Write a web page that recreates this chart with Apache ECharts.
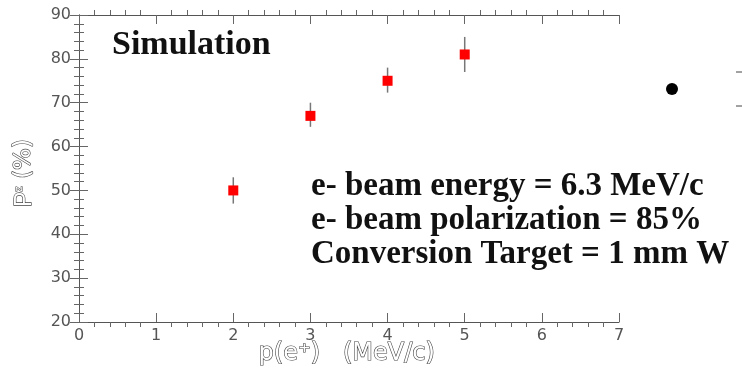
<!DOCTYPE html>
<html>
<head>
<meta charset="utf-8">
<script src="https://cdn.jsdelivr.net/npm/echarts@6/dist/echarts.min.js"></script>
<style>
  html, body { margin: 0; padding: 0; background: #fff; }
  #chart { width: 742px; height: 371px; }
</style>
</head>
<body>
<div id="chart"></div>
<script>
const momentum = [2, 3, 4, 5];
const polarization = [50, 67, 75, 81];
const errLow = [47, 64.5, 72.3, 77];
const errHigh = [53, 70, 78, 85];
const notes = [
  'e- beam energy = 6.3 MeV/c',
  'e- beam polarization = 85%',
  'Conversion Target = 1 mm W'
];

const chart = echarts.init(document.getElementById('chart'));

const points = momentum.map((x, i) => [x, polarization[i]]);
const bars = momentum.map((x, i) => [x, errLow[i], errHigh[i]]);

const axisLine = { show: true, lineStyle: { color: '#555', width: 1 } };
const tick = { inside: true, length: 9, lineStyle: { color: '#666' } };
const minor = { show: true, splitNumber: 5, length: -5, lineStyle: { color: '#666' } };
const serif = '"Liberation Serif", "DejaVu Serif", serif';
const sans = '"DejaVu Sans", "Liberation Sans", sans-serif';

const option = {
  animation: false,
  grid: { left: 79, right: 123, top: 15, bottom: 49 },
  xAxis: [
    {
      type: 'value', min: 0, max: 7, interval: 1,
      axisLine: axisLine, axisTick: tick, minorTick: minor,
      axisLabel: { color: '#555', fontFamily: sans, fontSize: 16, margin: 6 },
      splitLine: { show: false }
    },
    {
      type: 'value', min: 0, max: 7, interval: 1, position: 'top',
      axisLine: axisLine, axisTick: tick, minorTick: minor,
      axisLabel: { show: false },
      splitLine: { show: false }
    }
  ],
  yAxis: [
    {
      type: 'value', min: 20, max: 90, interval: 10,
      axisLine: axisLine, axisTick: tick, minorTick: minor,
      axisLabel: { color: '#555', fontFamily: sans, fontSize: 16, margin: 8 },
      splitLine: { show: false }
    },
    {
      type: 'value', min: 20, max: 90, interval: 10, position: 'right',
      axisLine: axisLine, axisTick: tick, minorTick: minor,
      axisLabel: { show: false },
      splitLine: { show: false }
    }
  ],
  series: [
    {
      type: 'custom',
      data: bars,
      renderItem: function (params, api) {
        const top = api.coord([api.value(0), api.value(2)]);
        const bot = api.coord([api.value(0), api.value(1)]);
        return {
          type: 'line',
          shape: { x1: top[0], y1: top[1], x2: bot[0], y2: bot[1] },
          style: { stroke: '#777', lineWidth: 1.5 }
        };
      },
      z: 2
    },
    {
      type: 'scatter',
      data: points,
      symbol: 'rect',
      symbolSize: 10,
      itemStyle: { color: '#ff0000', opacity: 1 },
      z: 3
    }
  ],
  graphic: [
    {
      type: 'rect', left: 305, top: 166, z: 10,
      shape: { width: 437, height: 110 },
      style: { fill: '#fff' }
    },
    {
      type: 'text', left: 112, top: 28, z: 11,
      style: { text: 'Simulation', font: 'bold 34px ' + serif, fill: '#111' }
    },
    {
      type: 'text', left: 311, top: 169, z: 11,
      style: { text: notes.join('\n'), font: 'bold 33px ' + serif, lineHeight: 34, fill: '#111' }
    },
    {
      type: 'text', x: 36, y: 207, rotation: Math.PI / 2, z: 11,
      style: {
        text: '{p|P}{s|z} (%)',
        font: '23px ' + sans,
        textAlign: 'left', textVerticalAlign: 'bottom',
        fill: '#fff', stroke: '#444', lineWidth: 1.2,
        rich: {
          p: { fontSize: 23, fill: '#fff', stroke: '#444', lineWidth: 1.2 },
          s: { fontSize: 11, fill: '#fff', stroke: '#444', lineWidth: 1, verticalAlign: 'top' }
        }
      }
    },
    {
      type: 'text', left: 258, top: 341, z: 11,
      style: {
        text: 'p(e\u207A)   (MeV/c)',
        font: '24px ' + sans,
        fill: '#fff', stroke: '#444', lineWidth: 1.2
      }
    },
    {
      type: 'circle', z: 11,
      shape: { cx: 672, cy: 89, r: 6 },
      style: { fill: '#000' }
    },
    {
      type: 'line', z: 11,
      shape: { x1: 736, y1: 72, x2: 742, y2: 72 },
      style: { stroke: '#444', lineWidth: 1 }
    },
    {
      type: 'line', z: 11,
      shape: { x1: 736, y1: 106, x2: 742, y2: 106 },
      style: { stroke: '#444', lineWidth: 1 }
    }
  ]
};

chart.setOption(option);
</script>
</body>
</html>
